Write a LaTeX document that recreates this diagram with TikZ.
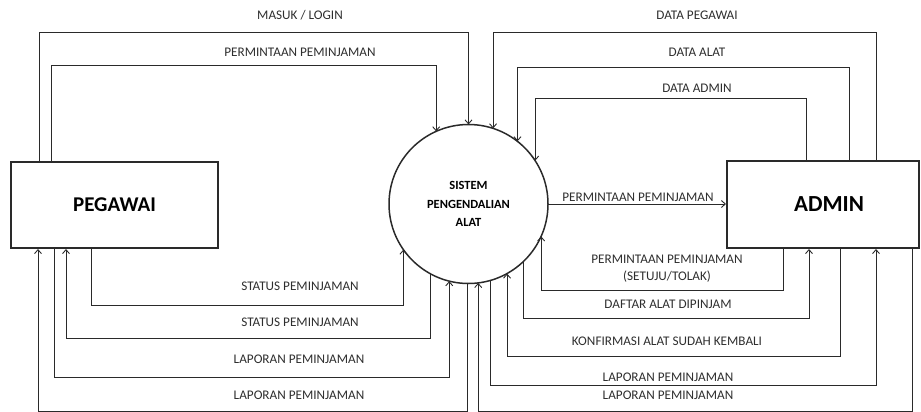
\documentclass[tikz,border=0pt]{standalone}
\usepackage{fontspec}
\setmainfont{Carlito}
\usetikzlibrary{arrows.meta,calc}
\definecolor{ink}{HTML}{2A2A2A}
\definecolor{txt}{HTML}{2E2E2E}
\tikzset{
  entity/.style={draw=ink, line width=2pt, fill=white, font=\bfseries\fontsize{21}{24}\selectfont, text=black, inner sep=0pt},
  proc/.style={circle, draw=ink, line width=1.5pt, minimum size=159pt, outer sep=0pt, inner sep=0pt, align=center, font=\bfseries\fontsize{12.5}{18.5}\selectfont, text=black},
  flow/.style={draw=ink, line width=0.9pt, -{Straight Barb[length=4pt,width=7pt]}},
  revflow/.style={draw=ink, line width=0.9pt, {Straight Barb[length=4pt,width=7pt]}-},
  lbl/.style={font=\fontsize{13.2}{15}\selectfont, text=txt, inner sep=0pt}
}
\begin{document}
\begin{tikzpicture}[x=1pt,y=-1pt]
\useasboundingbox (0,0) rectangle (921,412);
% entities and process
\node[entity, minimum width=207pt, minimum height=86pt] (peg) at (114.5,205) {PEGAWAI};
\node[entity, minimum width=192pt, minimum height=87pt, font=\bfseries\fontsize{23}{26}\selectfont] (adm) at (823,204.5) {\hspace*{12pt}ADMIN};
\node[proc] (sys) at (468.5,204) {SISTEM\\PENGENDALIAN\\ALAT};

% PEGAWAI -> system (top)
\draw[flow] ([xshift=29pt]peg.north west) -- ++(0,-129) -| (sys.90.4);
\draw[flow] ([xshift=41pt]peg.north west) -- ++(0,-96) -| (sys.114.92);
% ADMIN -> system (top)
\draw[flow] ([xshift=150pt]adm.north west) -- ++(0,-128) -| (sys.72.05);
\draw[flow] ([xshift=123pt]adm.north west) -- ++(0,-93) -| (sys.52.40);
\draw[flow] ([xshift=80pt]adm.north west) -- ++(0,-62) -| (sys.33.23);
% system -> ADMIN (middle)
\draw[flow] (sys.east) -- (sys.east -| adm.west);

% PEGAWAI side, bottom
\draw[flow] ([xshift=81pt]peg.south west) -- ++(0,56) -| (sys.-145.47);
\draw[revflow] ([xshift=56pt]peg.south west) -- ++(0,89) -| (sys.-119.79);
\draw[flow] ([xshift=44pt]peg.south west) -- ++(0,128) -| (sys.-104.94);
\draw[revflow] ([xshift=28pt]peg.south west) -- ++(0,162) -| (sys.-91.08);

% ADMIN side, bottom
\draw[flow] ([xshift=57pt]adm.south west) -- ++(0,41) -| (sys.-24.22);
\draw[revflow] ([xshift=83pt]adm.south west) -- ++(0,69) -| (sys.-46.72);
\draw[flow] ([xshift=114pt]adm.south west) -- ++(0,107) -| (sys.-61.86);
\draw[revflow] ([xshift=150pt]adm.south west) -- ++(0,136) -| (sys.-74.31);
\draw[flow] ([xshift=186pt]adm.south west) -- ++(0,162) -| (sys.-83.14);

% labels
\node[lbl] (l1) at (300,15) {MASUK / LOGIN};
\node[lbl] (l2) at (300,52) {PERMINTAAN PEMINJAMAN};
\node[lbl] (l3) at (697,15) {DATA PEGAWAI};
\node[lbl] (l4) at (697,52) {DATA ALAT};
\node[lbl] (l5) at (697,88) {DATA ADMIN};
\node[lbl] (l6) at (638,197) {PERMINTAAN PEMINJAMAN};
\node[lbl, align=center, font=\fontsize{13.2}{17}\selectfont] (l7) at (667,268.5) {PERMINTAAN PEMINJAMAN\\(SETUJU/TOLAK)};
\node[lbl] (l8) at (668,304) {DAFTAR ALAT DIPINJAM};
\node[lbl] (l9) at (667,341) {KONFIRMASI ALAT SUDAH KEMBALI};
\node[lbl] (l10) at (668,377) {LAPORAN PEMINJAMAN};
\node[lbl] (l11) at (668,395) {LAPORAN PEMINJAMAN};
\node[lbl] (l12) at (300,286) {STATUS PEMINJAMAN};
\node[lbl] (l13) at (300,322) {STATUS PEMINJAMAN};
\node[lbl] (l14) at (299,359) {LAPORAN PEMINJAMAN};
\node[lbl] (l15) at (299,395) {LAPORAN PEMINJAMAN};
\end{tikzpicture}
\end{document}
